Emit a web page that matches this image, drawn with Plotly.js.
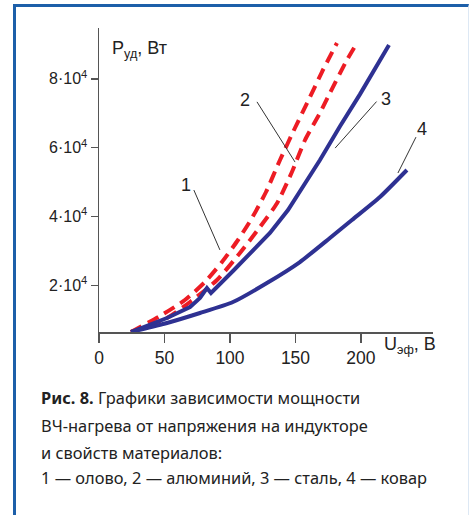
<!DOCTYPE html>
<html>
<head>
<meta charset="utf-8">
<script src="https://cdn.plot.ly/plotly-3.0.1.min.js"></script>
<style>
  html, body { margin: 0; padding: 0; background: #ffffff; }
  #frame { position: absolute; left: 13px; top: 4px; width: 452px; height: 520px;
           border-top: 3px solid #1d5fa9; border-left: 3px solid #1d5fa9; border-right: 1px solid #dde8f4; }
  #chart { position: absolute; left: 0; top: 0; width: 469px; height: 515px; }
</style>
</head>
<body>
<div id="frame"></div>
<div id="chart"></div>
<script>
// U, V (effective voltage) and P, W (specific power)
const u1 = [24.4, 46.6, 65.6, 80.9, 93.9, 106.1, 116.8, 127.5, 138.2, 149.6, 161.1, 170.2, 181.7];
const p1 = [6400, 11050, 15700, 20940, 26750, 33150, 39550, 47110, 56420, 65720, 74740, 82000, 90440];

const u2 = [24.4, 51.9, 69.5, 90.1, 107.6, 122.9, 135.9, 147.3, 157.3, 168.7, 176.3, 189.3, 196.9];
const p2 = [6400, 10470, 15120, 21520, 29370, 36930, 43820, 52930, 62230, 70080, 75900, 85500, 90440];

const u3 = [24.4, 51.9, 69.5, 77.1, 82.4, 85.5, 102.3, 117.6, 130.5, 144.3, 153.4, 168.7, 184.0, 199.2, 221.4];
const p3 = [6400, 10470, 13670, 16290, 19190, 17740, 24140, 29950, 35190, 41880, 47110, 56420, 66200, 75500, 89860];

const u4 = [24.4, 51.9, 77.1, 102.3, 128.2, 153.4, 176.3, 193.1, 214.5, 235.1];
const p4 = [6400, 9015, 11920, 15120, 20650, 26750, 33730, 38970, 45660, 53510];

const xTicks = [0, 50, 100, 150, 200];
const yTicks = [20000, 40000, 60000, 80000];
const yTickText = ['2·10<sup>4</sup>', '4·10<sup>4</sup>', '6·10<sup>4</sup>', '8·10<sup>4</sup>'];
const curveLabels = ['1', '2', '3', '4'];
const captionLines = [
  '<b>Рис. 8.</b> Графики зависимости мощности',
  'ВЧ-нагрева от напряжения на индукторе',
  'и свойств материалов:',
  '1 — олово, 2 — алюминий, 3 — сталь, 4 — ковар'
];

const BLUE = '#2e3192', RED = '#ed1c24';
const traces = [
  {x: u1, y: p1, mode: 'lines', line: {color: RED, width: 4, dash: '12px,7px', shape: 'spline', smoothing: 0.6}},
  {x: u2, y: p2, mode: 'lines', line: {color: RED, width: 4, dash: '12px,7px', shape: 'spline', smoothing: 0.6}},
  {x: u3, y: p3, mode: 'lines', line: {color: BLUE, width: 4, shape: 'linear'}},
  {x: u4, y: p4, mode: 'lines', line: {color: BLUE, width: 4, shape: 'spline', smoothing: 0.6}}
];

const AX = '#555555';
const yTickFont = {family: 'Liberation Sans, Arial, sans-serif', size: 16, color: '#222'};
const xTickFont = {family: 'Liberation Sans, Arial, sans-serif', size: 17.5, color: '#222'};
const capFont = {family: 'Noto Sans, sans-serif', size: 16.4, color: '#222'};

const labelPos = [[0.260, 0.484], [0.437, 0.763], [0.859, 0.766], [0.966, 0.668]];
const leaders = [
  [0.284, 0.467, 0.362, 0.270],
  [0.473, 0.757, 0.587, 0.559],
  [0.831, 0.758, 0.707, 0.605],
  [0.949, 0.641, 0.895, 0.523]
];

const annotations = curveLabels.map((t, i) => ({
  text: t, xref: 'paper', yref: 'paper', x: labelPos[i][0], y: labelPos[i][1],
  xanchor: 'center', yanchor: 'middle', showarrow: false,
  font: {family: 'Liberation Sans, Arial, sans-serif', size: 18, color: '#222'}
}));
annotations.push({
  text: 'P<sub>уд</sub>, Вт', xref: 'paper', yref: 'paper', x: 0.033, y: 0.975,
  xanchor: 'left', yanchor: 'top', showarrow: false,
  font: {family: 'Liberation Sans, Arial, sans-serif', size: 18, color: '#222'}
});
annotations.push({
  text: 'U<sub>эф</sub>, В', xref: 'paper', yref: 'paper', x: 1.014, y: 0.0,
  xanchor: 'right', yanchor: 'top', showarrow: false,
  font: {family: 'Liberation Sans, Arial, sans-serif', size: 18, color: '#222'}
});
const capY = [-0.214, -0.306, -0.395, -0.480];
captionLines.forEach((t, i) => annotations.push({
  text: t, xref: 'paper', yref: 'paper', x: -0.18, y: capY[i],
  xanchor: 'left', yanchor: 'middle', showarrow: false, font: capFont
}));

const shapes = leaders.map(l => ({
  type: 'line', xref: 'paper', yref: 'paper', x0: l[0], y0: l[1], x1: l[2], y1: l[3],
  line: {color: '#333', width: 1}
}));

const layout = {
  width: 469, height: 515,
  margin: {l: 99, r: 36, t: 28, b: 183},
  paper_bgcolor: 'rgba(0,0,0,0)', plot_bgcolor: 'rgba(0,0,0,0)',
  showlegend: false,
  xaxis: {
    range: [0, 255], tickvals: xTicks, ticks: 'outside', ticklen: 9, tickwidth: 1.3, tickcolor: AX,
    showline: true, linecolor: AX, linewidth: 1.5, showgrid: false, zeroline: false,
    tickfont: xTickFont
  },
  yaxis: {
    range: [6398, 94800], tickvals: yTicks, ticktext: yTickText, ticks: 'outside', ticklen: 7,
    tickwidth: 1.3, tickcolor: AX, showline: true, linecolor: AX, linewidth: 1.5,
    showgrid: false, zeroline: false, tickfont: yTickFont
  },
  annotations: annotations,
  shapes: shapes
};

Plotly.newPlot('chart', traces, layout, {displayModeBar: false, staticPlot: true});
</script>
</body>
</html>
